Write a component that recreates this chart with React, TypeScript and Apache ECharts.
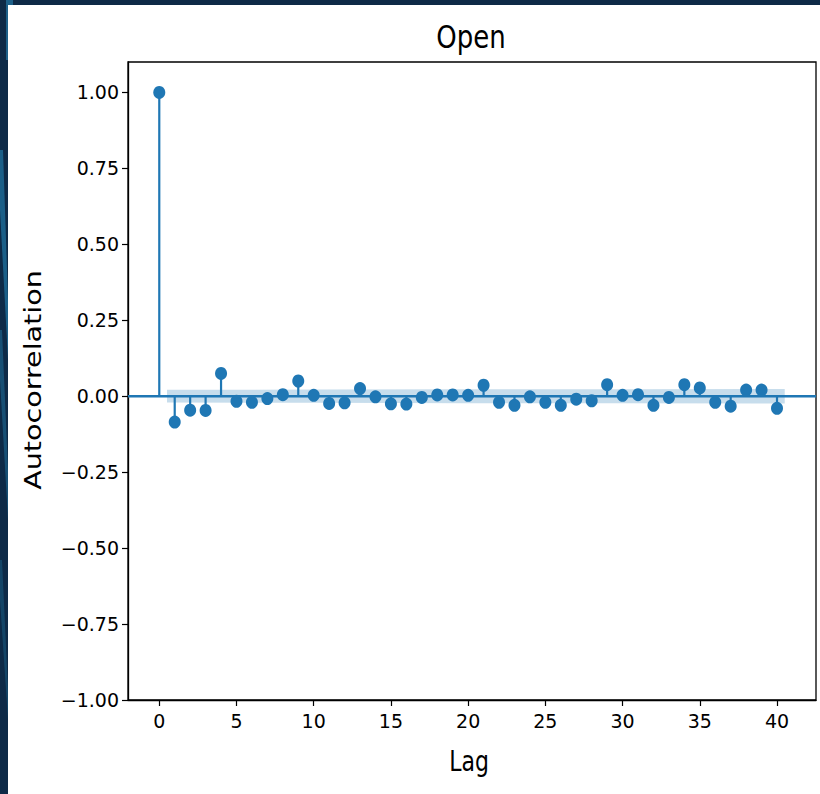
import React, { useEffect, useRef } from "react";
import * as echarts from "echarts";

const lags = [0, 1, 2, 3, 4, 5, 6, 7, 8, 9, 10, 11, 12, 13, 14, 15, 16, 17, 18, 19, 20,
  21, 22, 23, 24, 25, 26, 27, 28, 29, 30, 31, 32, 33, 34, 35, 36, 37, 38, 39, 40];
const acfValues = [1.0, -0.085, -0.046, -0.047, 0.075, -0.017, -0.02, -0.008, 0.005, 0.05, 0.003,
  -0.024, -0.022, 0.025, -0.002, -0.025, -0.026, -0.004, 0.004, 0.004, 0.003,
  0.036, -0.02, -0.03, -0.002, -0.02, -0.03, -0.01, -0.015, 0.038, 0.003,
  0.005, -0.03, -0.004, 0.038, 0.027, -0.02, -0.033, 0.02, 0.02, -0.04];
const confLags = [0.5, 10, 20, 30, 40.5];
const confHalfWidth = [0.021, 0.022, 0.023, 0.023, 0.024];
const xTicks = [0, 5, 10, 15, 20, 25, 30, 35, 40];
const yTicks = [-1, -0.75, -0.5, -0.25, 0, 0.25, 0.5, 0.75, 1];
const titleText = "Open";
const xLabel = "Lag";
const yLabel = "Autocorrelation";

const C0 = "#1f77b4";
const FONT = "'DejaVu Sans', sans-serif";

export default function App() {
  const ref = useRef<HTMLDivElement>(null);
  useEffect(() => {
    if (!ref.current) return;
    const chart = echarts.init(ref.current, null, { renderer: "svg" });
    const points = lags.map((l, i) => [l, acfValues[i]]);
    const fmt = (v: number) => (v < 0 ? "\u2212" : "") + Math.abs(v).toFixed(2);
    chart.setOption({
      animation: false,
      backgroundColor: "#ffffff",
      graphic: [
        { type: "rect", z: -100, shape: { x: 0, y: 0, width: 820, height: 794 }, style: { fill: "#0e2a47" } },
        { type: "rect", z: -99, shape: { x: 8, y: 5, width: 812, height: 789 }, style: { fill: "#ffffff" } },
        { type: "rect", z: -98, shape: { x: 6, y: 0, width: 2, height: 60 }, style: { fill: "#1d6089" } },
        { type: "rect", z: -98, shape: { x: 8, y: 0, width: 5, height: 5 }, style: { fill: "#1d6089" } },
        { type: "polygon", z: -98, shape: { points: [[0, 150], [3, 150], [8, 300], [8, 360], [0, 210]] }, style: { fill: "#1f6d99", opacity: 0.8 } },
        { type: "polygon", z: -98, shape: { points: [[0, 330], [2, 330], [8, 470], [8, 520], [0, 380]] }, style: { fill: "#1f6d99", opacity: 0.55 } },
        { type: "polygon", z: -98, shape: { points: [[0, 560], [2, 560], [8, 690], [8, 720], [0, 600]] }, style: { fill: "#1f6d99", opacity: 0.4 } },
        {
          type: "text", z: 100, x: 471, y: 37, scaleY: 1.2,
          style: { text: titleText, font: `26px ${FONT}`, fill: "#000", align: "center", verticalAlign: "middle" },
        },
        {
          type: "text", z: 100, x: 469, y: 762, scaleY: 1.25,
          style: { text: xLabel, font: `22px ${FONT}`, fill: "#000", align: "center", verticalAlign: "middle" },
        },
        {
          type: "text", z: 100, x: 33, y: 380, rotation: Math.PI / 2, scaleX: 1.27,
          style: { text: yLabel, font: `22.5px ${FONT}`, fill: "#000", align: "center", verticalAlign: "middle" },
        },
      ],
      grid: {
        left: 128, top: 62, right: 4, bottom: 94,
        show: true, borderColor: "#000", borderWidth: 1.3, backgroundColor: "transparent",
        containLabel: false,
      },
      xAxis: {
        type: "value", min: -2.025, max: 42.525,
        splitLine: { show: false },
        axisLine: { show: true, onZero: false, lineStyle: { color: "#000", width: 1.3 } },
        axisTick: { show: true, length: 6, lineStyle: { color: "#000", width: 1.2 }, customValues: xTicks },
        axisLabel: {
          customValues: xTicks, margin: 11, color: "#000", fontSize: 19, fontFamily: FONT,
          formatter: (v: number) => String(v),
        },
      },
      yAxis: {
        type: "value", min: -1, max: 1.1,
        splitLine: { show: false },
        axisLine: { show: true, onZero: false, lineStyle: { color: "#000", width: 1.3 } },
        axisTick: { show: true, length: 6, lineStyle: { color: "#000", width: 1.2 }, customValues: yTicks },
        axisLabel: {
          customValues: yTicks, margin: 9, color: "#000", fontSize: 19, fontFamily: FONT,
          formatter: (v: number) => fmt(v),
        },
      },
      series: [
        {
          type: "custom", z: 1, silent: true,
          data: [[0]],
          renderItem: (params: any, api: any) => {
            const upper = confLags.map((l, i) => api.coord([l, confHalfWidth[i]]));
            const lower = confLags.map((l, i) => api.coord([l, -confHalfWidth[i]])).reverse();
            return {
              type: "polygon",
              shape: { points: upper.concat(lower) },
              style: { fill: C0, opacity: 0.25 },
            };
          },
        },
        {
          type: "line", z: 2, silent: true, symbol: "none",
          data: [[-2.025, 0], [42.525, 0]],
          lineStyle: { color: C0, width: 2.6 },
        },
        {
          type: "custom", z: 3, silent: true,
          data: points,
          encode: { x: 0, y: 1 },
          renderItem: (params: any, api: any) => {
            const x = api.value(0);
            const y = api.value(1);
            const p0 = api.coord([x, 0]);
            const p1 = api.coord([x, y]);
            return {
              type: "line",
              shape: { x1: p0[0], y1: p0[1], x2: p1[0], y2: p1[1] },
              style: { stroke: C0, lineWidth: 2.2 },
            };
          },
        },
        {
          type: "scatter", z: 4, silent: true,
          data: points,
          symbol: "circle",
          symbolSize: [12, 13],
          itemStyle: { color: C0, opacity: 1 },
        },
      ],
    });
    return () => chart.dispose();
  }, []);
  return (
    <div
      ref={ref}
      style={{ position: "absolute", left: 0, top: 0, width: 820, height: 794 }}
    />
  );
}
